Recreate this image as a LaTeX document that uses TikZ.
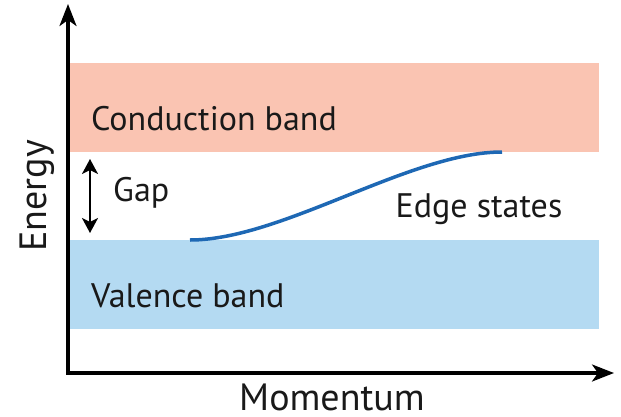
\documentclass[tikz,border=0pt]{standalone}
\usepackage{fontspec}
\setmainfont{PT Sans}
\usetikzlibrary{arrows.meta}
\definecolor{condColor}{RGB}{250,196,178}
\definecolor{valColor}{RGB}{180,218,242}
\definecolor{edgeColor}{RGB}{30,104,180}
\tikzset{
  axis/.style={line width=3.2pt,-{Stealth[length=22pt,width=17pt,inset=6pt]}},
  band/.style={fill=#1,draw=none},
  label/.style={font=\fontsize{34}{38}\selectfont,text=black!90,inner sep=0pt},
  axislabel/.style={font=\fontsize{38}{42}\selectfont,text=black!90,inner sep=0pt}
}
\begin{document}
\begin{tikzpicture}[x=1pt,y=-1pt]
      \useasboundingbox (0,0) rectangle (621,416);
      % bands
      \fill [band=condColor] (70,63) rectangle (599,152);
      \fill [band=valColor] (70,240) rectangle (599,329);
      % axes
      \coordinate (origin) at (68,373);
      \coordinate (etop) at (68,4);
      \coordinate (mend) at (614,373);
      \draw [axis] (origin) -- (etop);
      \draw [axis] ([xshift=-1.6pt]origin) -- (mend);
      % edge states
      \coordinate (vtop) at (190,240);
      \coordinate (cbot) at (502,152);
      \draw [edgeColor,line width=3.5pt] (vtop) .. controls (282,240) and (410,152) .. (cbot);
      % gap
      \coordinate (gaptop) at (90,159);
      \coordinate (gapbot) at (90,233);
      \draw [line width=2.4pt,{Stealth[length=15pt,width=16pt,inset=4pt]}-{Stealth[length=15pt,width=16pt,inset=4pt]}] (gaptop) -- (gapbot);
      \node [label,anchor=west] (gap) at (113,193) {Gap};
      \node [label,anchor=west] (cond) at (91,119) {Conduction band};
      \node [label,anchor=west] (val) at (91,296) {Valence band};
      \node [label] (edge) at (479,209) {Edge states};
      \node [axislabel,rotate=90] (energy) at (37,196) {Energy};
      \node [axislabel] (momentum) at (332,397) {Momentum};
    \end{tikzpicture}
\end{document}
